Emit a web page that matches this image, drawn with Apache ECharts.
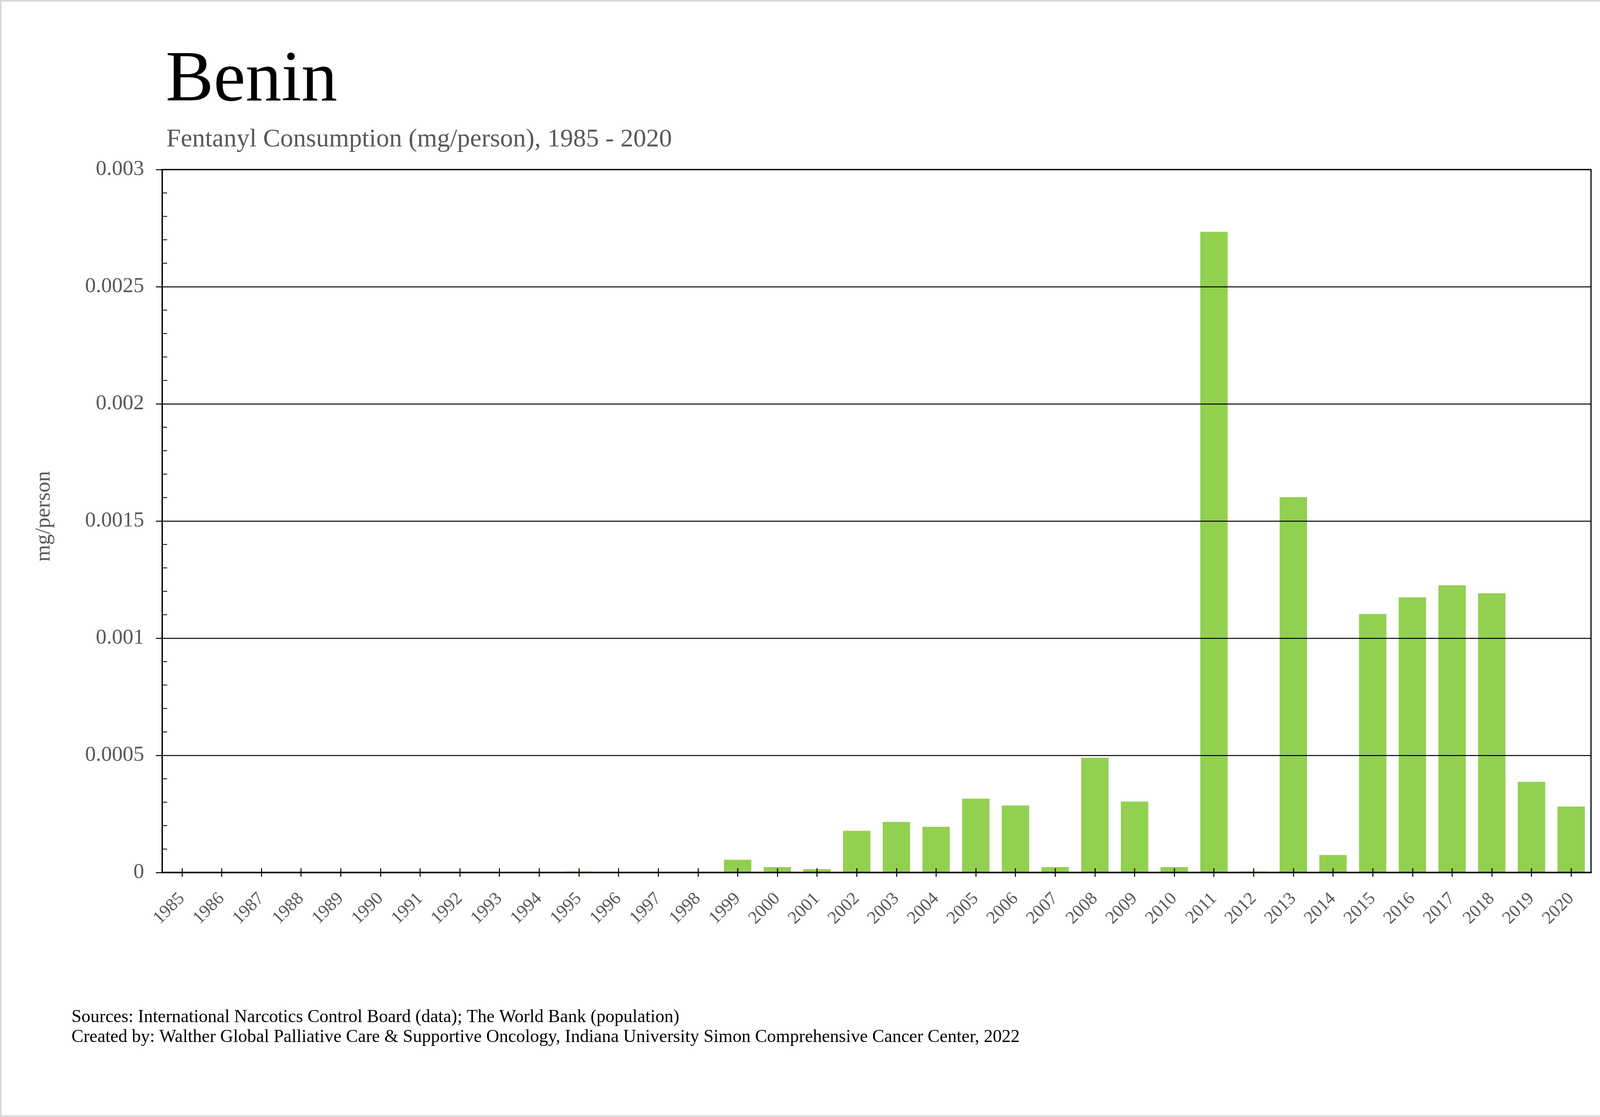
<!DOCTYPE html>
<html>
<head>
<meta charset="utf-8">
<script src="https://cdn.jsdelivr.net/npm/echarts@6/dist/echarts.min.js"></script>
<style>
html,body{margin:0;padding:0;background:#fff;}
#c{width:4221px;height:2860px;}
</style>
</head>
<body>
<div id="c"></div>
<script>
const years = ['1985','1986','1987','1988','1989','1990','1991','1992','1993','1994','1995','1996','1997','1998','1999','2000','2001','2002','2003','2004','2005','2006','2007','2008','2009','2010','2011','2012','2013','2014','2015','2016','2017','2018','2019','2020'];
const consumption = [0,0,0,0,0,0,0,0,0,0,0.000004,0,0,0,0.0000546,0.0000228,0.0000145,0.000178,0.000216,0.000195,0.000315,0.000286,0.0000228,0.00049,0.000303,0.0000228,0.002734,0.000004,0.0016015,0.0000747,0.0011034,0.0011743,0.001226,0.0011916,0.000387,0.0002816];
const yTickValues = [0,0.0005,0.001,0.0015,0.002,0.0025,0.003];
const yTickLabels = ['0','0.0005','0.001','0.0015','0.002','0.0025','0.003'];
const titleText = 'Benin';
const subtitleText = 'Fentanyl Consumption (mg/person), 1985 - 2020';
const yAxisName = 'mg/person';
const footerLines = [
  'Sources: International Narcotics Control Board (data); The World Bank (population)',
  'Created by: Walther Global Palliative Care & Supportive Oncology, Indiana University Simon Comprehensive Cancer Center, 2022'
];

const FONT = '"Liberation Serif", "Times New Roman", serif';
const chart = echarts.init(document.getElementById('c'), null, {renderer:'canvas'});

function yFmt(v){
  for (let i=0;i<yTickValues.length;i++){ if (Math.abs(v-yTickValues[i])<1e-9) return yTickLabels[i]; }
  return '';
}
function txt(text, x, y, size, color, align, rotation){
  return {
    type:'text', x:x, y:y, z:100, rotation:rotation||0,
    style:{text:text, fontSize:size, fontFamily:FONT, fill:color,
      align:align||'left', verticalAlign:'middle', textAlign:align||'left', textVerticalAlign:'middle'}
  };
}

const option = {
  backgroundColor:'#ffffff',
  animation:false,
  grid:{left:415, right:148, top:434, bottom:626, containLabel:false, show:true, borderColor:'#000', borderWidth:3, backgroundColor:'transparent'},
  xAxis:[{
    type:'category', data:years, boundaryGap:true, z:10,
    axisLine:{show:true, lineStyle:{color:'#000', width:4}},
    axisTick:{show:true, alignWithLabel:true, length:11, inside:false, lineStyle:{color:'#000', width:2.5}},
    axisLabel:{show:true, interval:0, rotate:45, margin:60, fontSize:46, fontFamily:FONT, color:'#595959',
      align:'right', verticalAlign:'middle', padding:[0,0,21,0]},
    splitLine:{show:false}
  },{
    type:'category', data:years, boundaryGap:true, position:'bottom', z:10,
    axisLine:{show:false},
    axisTick:{show:true, alignWithLabel:true, length:11, inside:true, lineStyle:{color:'#000', width:2.5}},
    axisLabel:{show:false},
    splitLine:{show:false}
  }],
  yAxis:[{
    type:'value', min:0, max:0.003, interval:0.0005, position:'left', z:10,
    axisLine:{show:true, lineStyle:{color:'#000', width:3}},
    axisTick:{show:false, inside:true},
    minorTick:{show:true, splitNumber:5, length:13, lineStyle:{color:'#000', width:2}},
    axisLabel:{show:true, margin:46, fontSize:55, fontFamily:FONT, color:'#595959', formatter:yFmt},
    splitLine:{show:true, lineStyle:{color:'#000', width:2.5}}
  },{
    type:'value', min:0, max:0.003, interval:0.0005, position:'left', z:10,
    axisLine:{show:false},
    axisTick:{show:true, inside:false, length:16, lineStyle:{color:'#000', width:2.5}},
    axisLabel:{show:false},
    splitLine:{show:false}
  }],
  series:[{
    type:'bar', data:consumption, xAxisIndex:0, yAxisIndex:0,
    barCategoryGap:'31%',
    itemStyle:{color:'#92D050'}
  }],
  graphic:[
    {type:'rect', z:0, shape:{x:2, y:2, width:4217, height:2856}, style:{fill:'none', stroke:'#d9d9d9', lineWidth:4}},
    txt(titleText, 424, 209, 184, '#000000'),
    txt(subtitleText, 426, 358, 66, '#595959'),
    txt(yAxisName, 113, 1322, 55, '#595959', 'center', Math.PI/2),
    txt(footerLines[0], 183, 2605, 46, '#000000'),
    txt(footerLines[1], 183, 2656, 46, '#000000')
  ]
};
chart.setOption(option);
</script>
</body>
</html>
